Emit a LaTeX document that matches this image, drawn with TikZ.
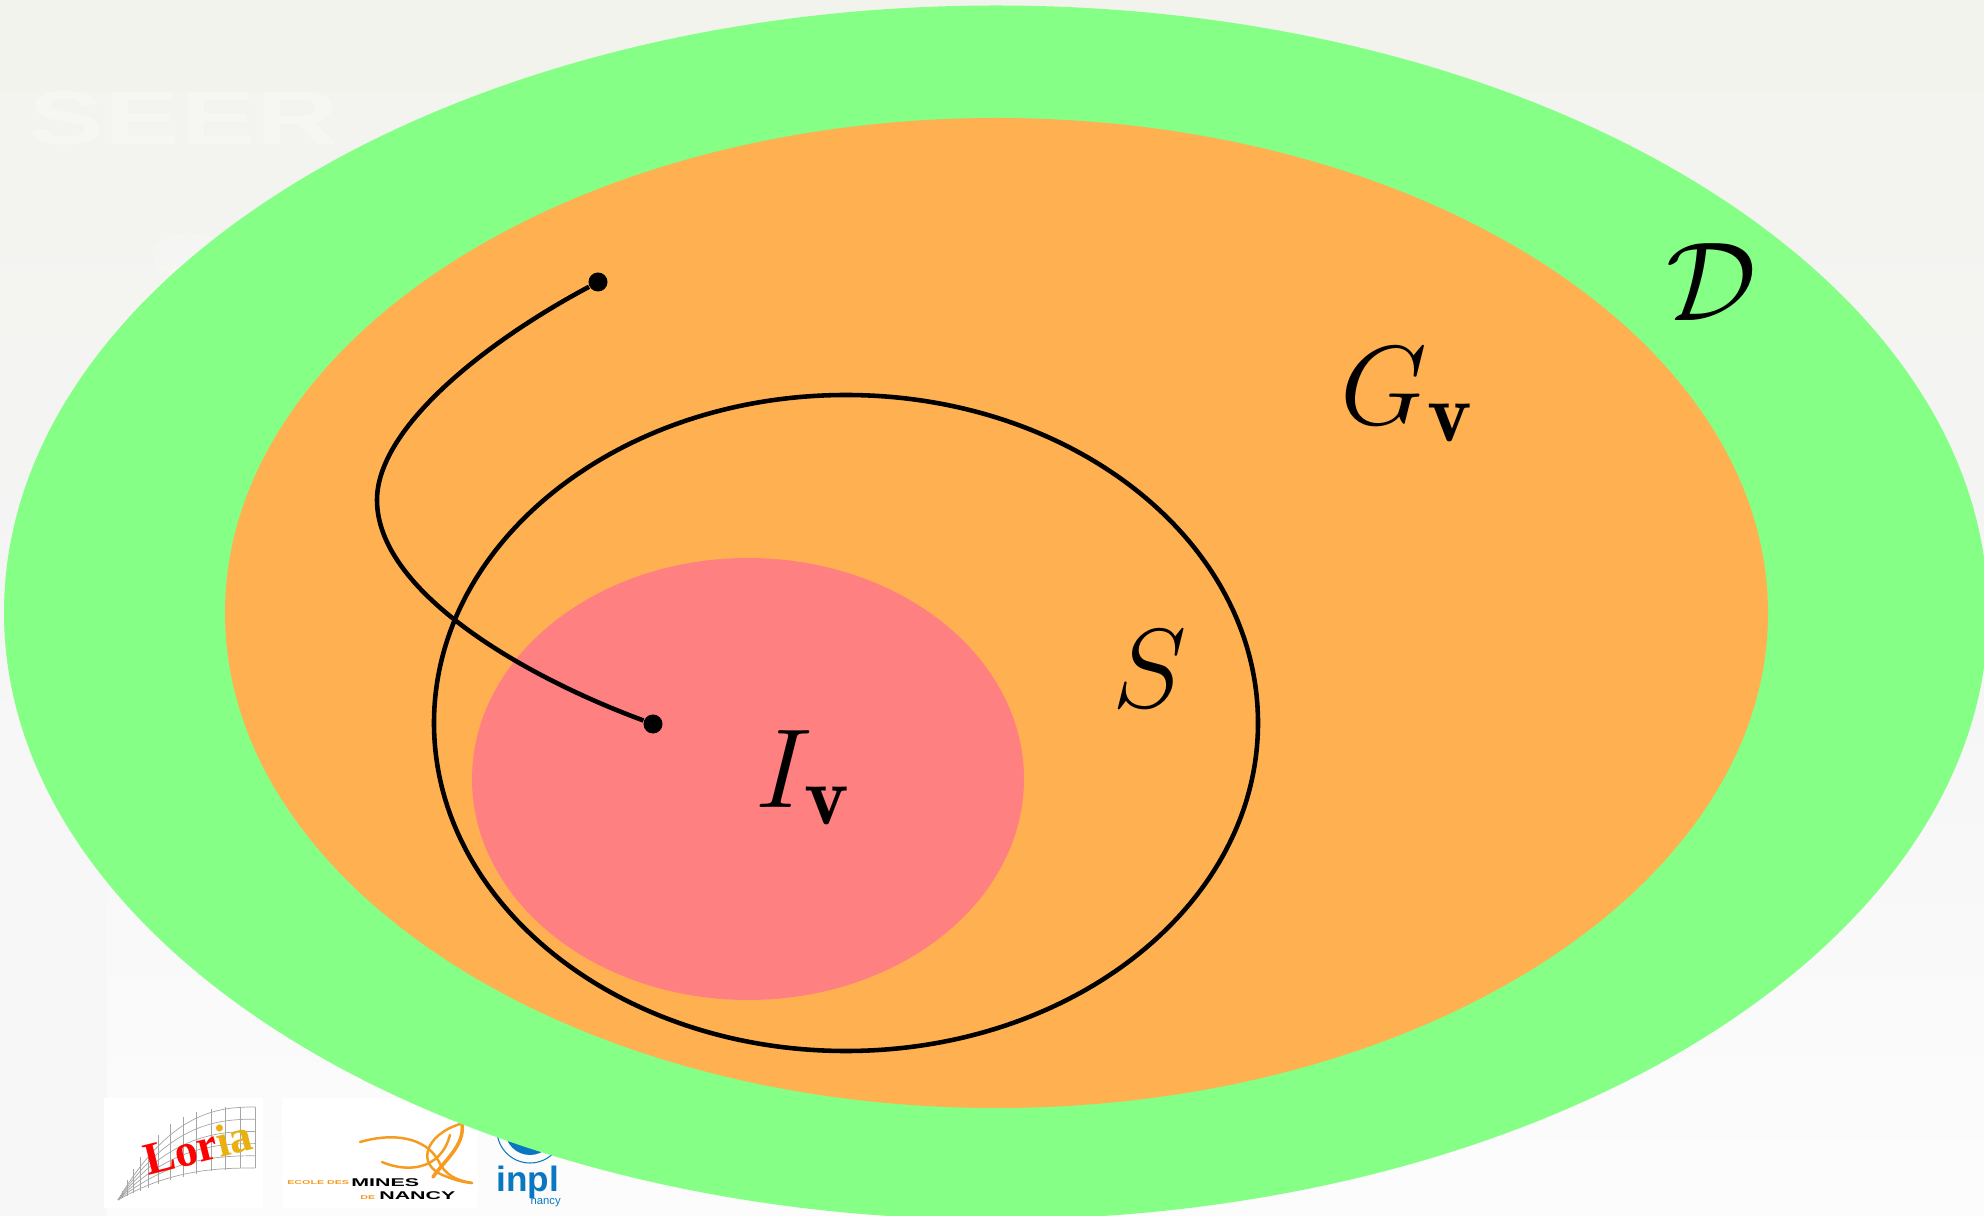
\documentclass[tikz,border=0pt]{standalone}
\usepackage{fix-cm}
\usepackage{fontspec}
\DeclareMathSizes{32}{32}{24}{16}
\newfontfamily\logoserif{Liberation Serif}
\newfontfamily\logosans{Liberation Sans}
\definecolor{domaincol}{HTML}{85FF85}
\definecolor{guarcol}{HTML}{FFB152}
\definecolor{initcol}{HTML}{FF8080}
\definecolor{minesorange}{HTML}{F59B20}
\definecolor{inplblue}{HTML}{0A78C0}
\definecolor{loriagold}{HTML}{E8B010}
\tikzset{
	setlabel/.style={anchor=base west, inner sep=0pt, font=\fontsize{32}{38}\selectfont},
	endpoint/.style={circle, fill=black, inner sep=0pt, minimum size=0.19cm},
	meshline/.style={gray!70, line width=0.2pt},
	swoosh/.style={minesorange, line width=0.7pt, line cap=round},
	logotext/.style={anchor=base west, inner sep=0pt, xscale=1.9}
}
\begin{document}
\begin{tikzpicture}[x=0.01cm, y=-0.01cm] % one unit is one pixel of the reference, y going down
	
	\useasboundingbox (0,0) rectangle (1984,1216);
	
	% -----------------------------
	% Slide background
	% -----------------------------
	\shade[top color=black!5!white!98!yellow, bottom color=white!99!black, middle color=black!4] (0,0) rectangle (1984,1216);
	\fill[black!3] (0,700) rectangle (107,1216);
	\fill[white, opacity=0.2] (190,255) ellipse (38 and 22);
	\node[anchor=base west, inner sep=0pt, text=white, opacity=0.25, xscale=1.5] (seer) at (27,145)
		{\logosans\bfseries\fontsize{21.6}{22}\selectfont SEER};
	
	% -----------------------------
	% Logos
	% -----------------------------
	\fill[white] (104,1098) rectangle (263,1208);
	\fill[white] (282,1098) rectangle (478,1208);
	
	% Loria mesh
	\foreach \t in {0,0.2,...,1.01} {
		\draw[meshline, domain=118:255, samples=30]
		plot (\x, {(1107+61*\t)*(1-((255-\x)/137)^2.5) + 1200*((255-\x)/137)^2.5});
	}
	\foreach \x in {122,127,133,140,148,158,170,183,196,211,225,240,255} {
		\draw[meshline] (\x, {1107+93*((255-\x)/137)^3.5}) -- (\x, {1168+32*((255-\x)/137)^2});
	}
	\node[rotate=14, inner sep=0pt] (loria) at (198,1147)
		{\logoserif\bfseries\fontsize{13}{13}\selectfont\textcolor{red}{Lor}\textcolor{loriagold}{ia}};
	
	% Mines logo
	\draw[swoosh] (360,1142) .. controls (395,1132) and (425,1138) .. (438,1160) .. controls (445,1175) and (455,1180) .. (472,1183);
	\draw[swoosh] (382,1162) .. controls (405,1172) and (440,1172) .. (450,1135);
	\draw[swoosh] (460,1124) .. controls (425,1135) and (415,1165) .. (445,1176) .. controls (455,1180) and (462,1182) .. (472,1183);
	\draw[swoosh, line width=1pt] (462,1124) .. controls (465,1145) and (445,1160) .. (433,1177);
	\node[logotext, text=minesorange] (ecole) at (286,1185)
		{\logosans\bfseries\fontsize{1.6}{2}\selectfont ECOLE DES};
	\node[logotext] (minesname) at (350,1186)
		{\logosans\bfseries\fontsize{3.2}{4}\selectfont MINES};
	\node[logotext, text=minesorange] (de) at (359,1199)
		{\logosans\bfseries\fontsize{1.6}{2}\selectfont DE};
	\node[logotext] (nancyname) at (378,1199)
		{\logosans\bfseries\fontsize{3.2}{4}\selectfont NANCY};
	
	% Inpl logo
	\draw[inplblue, line width=0.3pt] (530,1130) circle (33);
	\fill[inplblue] (530,1130) circle (25);
	\fill[white] (532,1118) circle (24);
	\node[anchor=base west, inner sep=0pt, text=inplblue] (inpl) at (496,1192)
		{\logosans\bfseries\fontsize{10}{10}\selectfont inpl};
	\node[anchor=base west, inner sep=0pt, text=inplblue] (inplnancy) at (530,1205)
		{\logosans\fontsize{3.2}{4}\selectfont nancy};
	
	% -----------------------------
	% Nested sets
	% -----------------------------
	\fill[domaincol] (996,612.5) ellipse (992 and 607);
	\fill[guarcol] (996.5,613) ellipse (771.5 and 495);
	\fill[initcol] (748,779) ellipse (276 and 221);
	\draw[line width=1.3pt] (846,723) ellipse (412 and 328);
	
	% -----------------------------
	% Trajectory
	% -----------------------------
	\node[endpoint] (trajstart) at (598,282) {};
	\node[endpoint] (trajend) at (653,724) {};
	\coordinate (trajleft) at (377,500);
	\draw[line width=1.3pt] (trajstart) .. controls (480,345) and (377,430) .. (trajleft)
	.. controls (377,590) and (520,675) .. (trajend);
	
	% -----------------------------
	% Labels
	% -----------------------------
	\node[setlabel] (labD) at (1666,321) {$\mathcal{D}$};
	\node[setlabel] (labG) at (1340,425) {$G_{\mathbf{v}}$};
	\node[setlabel] (labS) at (1112,708) {$S$};
	\node[setlabel] (labI) at (755,808) {$I_{\mathbf{v}}$};
	
\end{tikzpicture}
\end{document}
